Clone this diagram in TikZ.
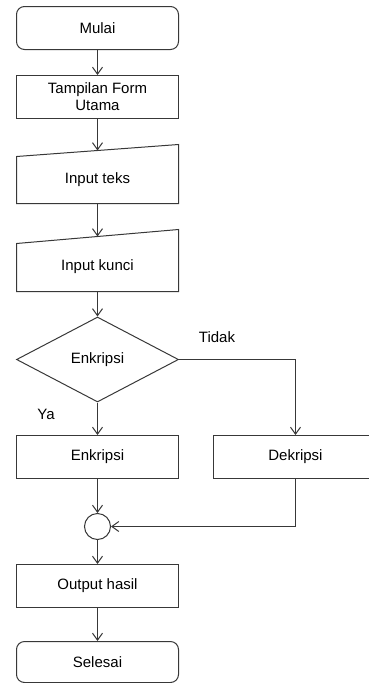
\documentclass[tikz,border=0pt]{standalone}
\usepackage{fontspec}
\setmainfont{Liberation Sans}
\usetikzlibrary{shapes.geometric,arrows.meta}
\begin{document}
\begin{tikzpicture}[x=1pt,y=-1pt,
  every node/.style={font=\fontsize{15}{17}\selectfont, text=black},
  line/.style={draw=black!78, line width=1pt},
  box/.style={line, rectangle, minimum width=162pt, minimum height=43pt, inner sep=0pt, align=center},
  term/.style={box, rounded corners=8pt},
  arr/.style={line, -{Straight Barb[length=7pt,width=10pt]}},
  lbl/.style={inner sep=0pt}
]
\useasboundingbox (0,0) rectangle (369,683);
\node[term] (start) at (97.5,28) {Mulai};
\node[box] (form) at (97.5,97) {Tampilan Form\\Utama};
% manual input: teks
\draw[line] (16.5,156.5) -- (178.5,144.5) -- (178.5,203.5) -- (16.5,203.5) -- cycle;
\node[lbl] (teks) at (97.5,180) {Input teks};
\coordinate (teksTop) at (97.5,150.5);
\coordinate (teksBot) at (97.5,203.5);
% manual input: kunci
\draw[line] (16.5,243.5) -- (178.5,229.5) -- (178.5,291.5) -- (16.5,291.5) -- cycle;
\node[lbl] (kunci) at (97.5,267) {Input kunci};
\coordinate (kunciTop) at (97.5,236.5);
\coordinate (kunciBot) at (97.5,291.5);
% decision
\node[line, diamond, minimum width=162pt, minimum height=85pt, inner sep=0pt, aspect=1.9] (dec) at (97.5,359.5) {Enkripsi};
\node[box] (enc) at (97.5,457) {Enkripsi};
\begin{scope}
\clip (0,0) rectangle (369,683);
\node[box, minimum width=164pt] (dek) at (295.5,457) {Dekripsi};
\end{scope}
\node[line, circle, minimum size=26pt, inner sep=0pt] (join) at (97.5,526.5) {};
\node[box] (out) at (97.5,586) {Output hasil};
\node[term, minimum height=41pt] (end) at (97.5,662) {Selesai};
\node[lbl] (tidak) at (217,337) {Tidak};
\node[lbl] (ya) at (46,414) {Ya};
% connectors
\draw[arr] (start) -- (form);
\draw[arr] (form) -- (teksTop);
\draw[arr] (teksBot) -- (kunciTop);
\draw[arr] (kunciBot) -- (dec);
\draw[arr] (dec.south) -- (enc.north);
\draw[arr] (dec.east) -| (dek.north);
\draw[arr] (enc) -- (join);
\draw[arr] (dek.south) |- (join.east);
\draw[arr] (join) -- (out);
\draw[arr] (out) -- (end);
\end{tikzpicture}
\end{document}
